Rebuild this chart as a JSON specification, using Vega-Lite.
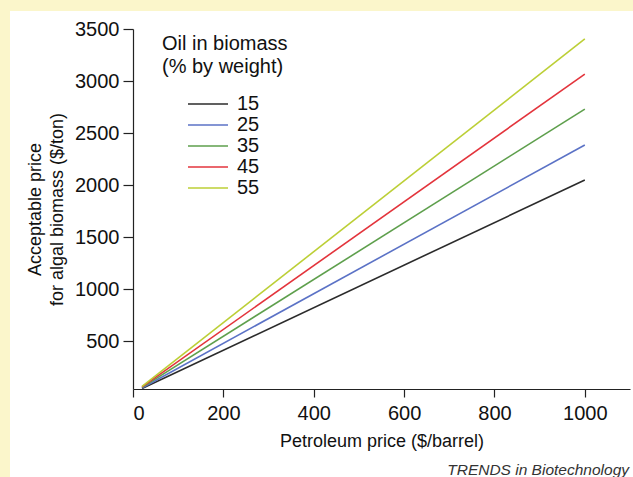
{
  "$schema": "https://vega.github.io/schema/vega-lite/v6.json",
  "width": 623,
  "height": 466,
  "autosize": "none",
  "padding": {"left": 10, "top": 11, "right": 0, "bottom": 0},
  "background": "#FBF6CB",
  "title": {
    "text": "TRENDS in Biotechnology",
    "orient": "bottom",
    "anchor": "end",
    "frame": "group",
    "fontStyle": "italic",
    "fontWeight": "normal",
    "fontSize": 15.5,
    "font": "Liberation Sans",
    "color": "#333333",
    "dx": -4,
    "offset": -14
  },
  "config": {
    "view": {"fill": "white", "stroke": null},
    "font": "Liberation Sans"
  },
  "data": {
    "values": [
      {"petroleum": 20, "biomass": 45, "oil": "15"},
      {"petroleum": 1000, "biomass": 2048, "oil": "15"},
      {"petroleum": 20, "biomass": 50, "oil": "25"},
      {"petroleum": 1000, "biomass": 2385, "oil": "25"},
      {"petroleum": 20, "biomass": 55, "oil": "35"},
      {"petroleum": 1000, "biomass": 2730, "oil": "35"},
      {"petroleum": 20, "biomass": 60, "oil": "45"},
      {"petroleum": 1000, "biomass": 3067, "oil": "45"},
      {"petroleum": 20, "biomass": 65, "oil": "55"},
      {"petroleum": 1000, "biomass": 3404, "oil": "55"}
    ]
  },
  "mark": {"type": "line", "strokeWidth": 1.6},
  "encoding": {
    "x": {
      "field": "petroleum",
      "type": "quantitative",
      "scale": {"domain": [0, 1100], "range": [123, 620], "nice": false},
      "axis": {
        "title": "Petroleum price ($/barrel)",
        "values": [0, 200, 400, 600, 800, 1000],
        "format": "d",
        "offset": -88,
        "grid": false,
        "labelFont": "Liberation Sans",
        "titleFont": "Liberation Sans",
        "labelFontSize": 20,
        "titleFontSize": 18,
        "titleFontWeight": "normal",
        "labelColor": "#111111",
        "titleColor": "#111111",
        "domainColor": "#222222",
        "tickColor": "#222222",
        "domainWidth": 1.2,
        "tickWidth": 1.2,
        "tickSize": 8,
        "labelPadding": 6,
        "titlePadding": 9
      }
    },
    "y": {
      "field": "biomass",
      "type": "quantitative",
      "scale": {"domain": [40, 3500], "range": [378, 18], "nice": false, "zero": false},
      "axis": {
        "title": ["Acceptable price", "for algal biomass ($/ton)"],
        "values": [500, 1000, 1500, 2000, 2500, 3000, 3500],
        "format": "d",
        "offset": -123,
        "grid": false,
        "labelFont": "Liberation Sans",
        "titleFont": "Liberation Sans",
        "labelFontSize": 20,
        "titleFontSize": 18,
        "titleFontWeight": "normal",
        "labelColor": "#111111",
        "titleColor": "#111111",
        "domainColor": "#222222",
        "tickColor": "#222222",
        "domainWidth": 1.2,
        "tickWidth": 1.2,
        "tickSize": 10,
        "labelPadding": 4,
        "titlePadding": 8,
        "titleLineHeight": 22
      }
    },
    "color": {
      "field": "oil",
      "type": "nominal",
      "scale": {
        "domain": ["15", "25", "35", "45", "55"],
        "range": ["#2b2b2b", "#5b72c6", "#5e9f4c", "#e3343c", "#bccf36"]
      },
      "legend": {
        "title": ["Oil in biomass", "(% by weight)"],
        "orient": "none",
        "legendX": 152,
        "legendY": 23,
        "titleFont": "Liberation Sans",
        "labelFont": "Liberation Sans",
        "titleFontSize": 20,
        "titleFontWeight": "normal",
        "titleColor": "#111111",
        "titleLineHeight": 23,
        "titlePadding": 16,
        "labelFontSize": 20,
        "labelColor": "#111111",
        "symbolType": "M-2,0H2",
        "symbolSize": 400,
        "symbolStrokeWidth": 1.6,
        "symbolOffset": 35,
        "labelOffset": 18,
        "rowPadding": 0
      }
    }
  }
}
